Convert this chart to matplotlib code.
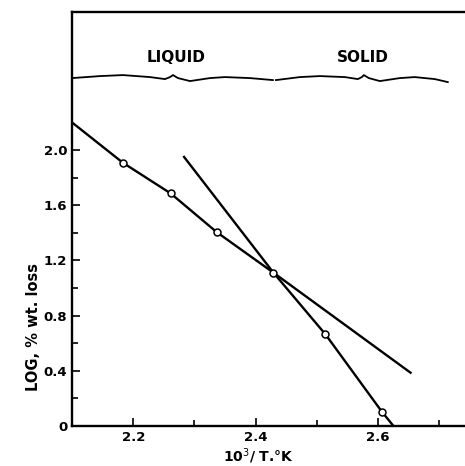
import numpy as np
import matplotlib
matplotlib.use("Agg")
import matplotlib.pyplot as plt
from matplotlib.ticker import MultipleLocator

# liquid phase line (upper-left to lower-right, shallow)
liq_x = [2.10, 2.183, 2.261, 2.336, 2.429, 2.653]
liq_y = [2.20, 1.908, 1.686, 1.406, 1.111, 0.386]
liq_px = [2.183, 2.261, 2.336, 2.429]
liq_py = [1.908, 1.686, 1.406, 1.111]

# solid phase line (steep)
sol_x = [2.283, 2.429, 2.514, 2.606, 2.625]
sol_y = [1.95, 1.111, 0.664, 0.104, 0.0]
sol_px = [2.514, 2.606]
sol_py = [0.664, 0.104]

# wavy phase boundary in the header band (pixel-read, converted to data)
wave1_px = [72, 100, 123, 150, 165, 170, 173, 178, 190, 210, 225, 250, 273]
wave1_py = [78, 76, 75, 77, 79, 77, 75, 78, 81, 78, 77, 78, 80]
wave2_px = [276, 300, 320, 345, 358, 362, 364, 369, 380, 400, 415, 435, 448]
wave2_py = [80, 77, 76, 77, 79, 77, 75, 78, 81, 78, 77, 79, 82]


def px2x(p):
    return 2.1 + (np.array(p) - 72) / 612.5


def py2y(p):
    return (426 - np.array(p)) / 138.0


fig = plt.figure(figsize=(4.65, 4.66), dpi=100)
ax = fig.add_axes([0.155, 0.086, 0.845, 0.888])

lw = 1.7
ax.plot(liq_x, liq_y, color='black', lw=lw)
ax.plot(sol_x, sol_y, color='black', lw=lw)
ax.plot(liq_px, liq_py, 'o', ms=5, mfc='white', mec='black', mew=1.1)
ax.plot(sol_px, sol_py, 'o', ms=5, mfc='white', mec='black', mew=1.1)

ax.plot(px2x(wave1_px), py2y(wave1_py), color='black', lw=1.3)
ax.plot(px2x(wave2_px), py2y(wave2_py), color='black', lw=1.3)

ax.text(2.27, 2.67, 'LIQUID', ha='center', va='center', fontsize=11, fontweight='bold')
ax.text(2.575, 2.67, 'SOLID', ha='center', va='center', fontsize=11, fontweight='bold')

ax.set_xlim(2.1, 2.742)
ax.set_ylim(0, 3.0)

ax.set_xticks([2.2, 2.4, 2.6])
ax.set_xticklabels(['2.2', '2.4', '2.6'])
ax.xaxis.set_minor_locator(MultipleLocator(0.1))
ax.set_yticks([0, 0.4, 0.8, 1.2, 1.6, 2.0])
ax.set_yticklabels(['0', '0.4', '0.8', '1.2', '1.6', '2.0'])
ax.set_yticks([0.2, 0.6, 1.0, 1.4, 1.8], minor=True)

ax.tick_params(which='both', direction='in', width=1.2)
ax.tick_params(which='major', length=6, labelsize=9.5)
ax.tick_params(which='minor', length=4)
for lab in ax.get_xticklabels() + ax.get_yticklabels():
    lab.set_fontweight('bold')

ax.spines['right'].set_visible(False)
for s in ['left', 'bottom', 'top']:
    ax.spines[s].set_linewidth(1.7)

ax.set_xlabel('10$^3$/ T.°K', fontsize=10, fontweight='bold')
ax.set_ylabel('LOG, % wt. loss', fontsize=10.5, fontweight='bold')
ax.xaxis.set_label_coords(0.473, -0.05)
ax.yaxis.set_label_coords(-0.08, 0.24)

fig.savefig('out.png', dpi=100)
